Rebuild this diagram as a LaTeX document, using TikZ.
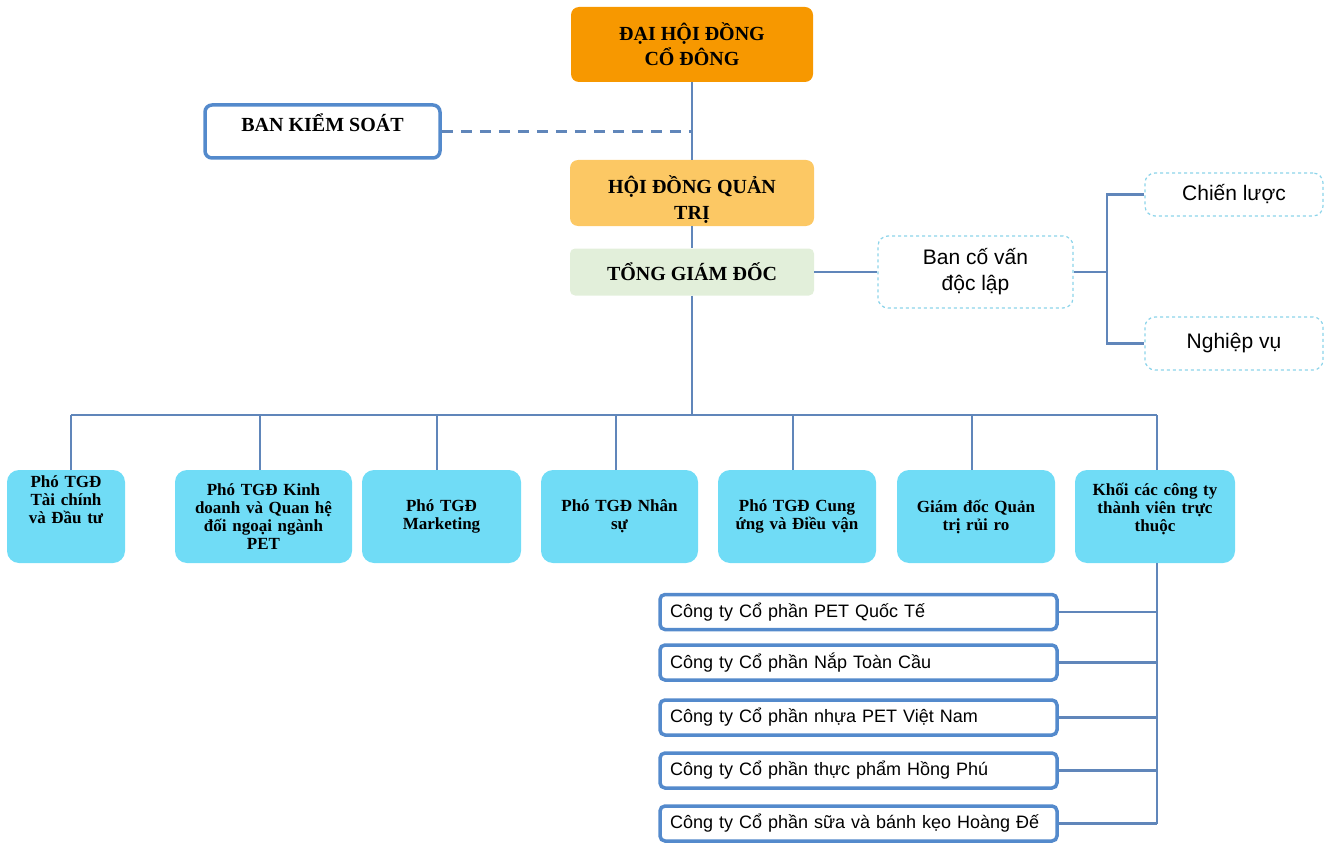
\documentclass[tikz,border=0pt]{standalone}
\usepackage{fontspec}
\setmainfont{Liberation Serif}
\setsansfont{Liberation Sans}
\definecolor{conn}{RGB}{96,134,186}
\definecolor{bord}{RGB}{84,138,204}
\definecolor{orangeA}{RGB}{247,152,0}
\definecolor{orangeB}{RGB}{252,200,100}
\definecolor{greenA}{RGB}{226,239,218}
\definecolor{cyanA}{RGB}{112,220,246}
\definecolor{dashc}{RGB}{140,212,234}
\begin{document}
\begin{tikzpicture}[x=1pt,y=-1pt,
  topbox/.style={rounded corners=8pt, align=center, font=\bfseries\fontsize{20}{25}\selectfont, inner sep=2pt},
  outline/.style={draw=bord, line width=3.5pt, fill=white, rounded corners=7pt, inner sep=2pt},
  advbox/.style={draw=dashc, dashed, line width=1.2pt, fill=white, rounded corners=10pt, align=center, font=\sffamily\fontsize{21}{26}\selectfont},
  unitbox/.style={fill=cyanA, rounded corners=12pt, align=center, font=\bfseries\fontsize{17}{18}\selectfont, minimum height=93pt, inner sep=3pt},
  compbox/.style={draw=bord, line width=3.5pt, fill=white, rounded corners=5pt, minimum width=397pt, minimum height=35pt, text width=377pt, align=left, inner xsep=10pt, font=\sffamily\fontsize{18}{22}\selectfont},
  link/.style={draw=conn, line width=2.2pt}
]
\useasboundingbox (0,0) rectangle (1330,845);

\node[topbox, fill=orangeA, minimum width=242pt, minimum height=75pt] (dhd) at (692,44.5) {ĐẠI HỘI ĐỒNG\\CỔ ĐÔNG};
\node[outline, minimum width=235pt, minimum height=53pt, text height=15pt, text depth=14pt, font=\bfseries\fontsize{20}{25}\selectfont] (bks) at (322.5,131.5) {BAN KIỂM SOÁT};
\node[topbox, fill=orangeB, minimum width=244pt, minimum height=66pt, text height=52pt, text depth=0pt] (hdqt) at (692,193) {HỘI ĐỒNG QUẢN\\TRỊ};
\node[topbox, fill=greenA, rounded corners=5pt, minimum width=244pt, minimum height=47pt] (tgd) at (692,272) {TỔNG GIÁM ĐỐC};

\node[advbox, minimum width=195pt, minimum height=72pt] (bcv) at (975.5,272) {Ban cố vấn\\độc lập};
\node[advbox, minimum width=178pt, minimum height=43pt] (cl) at (1234,194.5) {Chiến lược};
\node[advbox, minimum width=178pt, minimum height=53pt] (nv) at (1234,343.5) {Nghiệp vụ};

\node[unitbox, minimum width=118pt, text width=110pt, text height=5pt, text depth=64pt] (b1) at (66,516.5) {Phó TGĐ\\Tài chính\\và Đầu tư};
\node[unitbox, minimum width=177pt, text width=165pt] (b2) at (263.5,516.5) {Phó TGĐ Kinh\\doanh và Quan hệ\\đối ngoại ngành\\PET};
\node[unitbox, minimum width=159pt, text width=150pt] (b3) at (441.5,516.5) {Phó TGĐ\\Marketing};
\node[unitbox, minimum width=157pt, text width=150pt] (b4) at (619.5,516.5) {Phó TGĐ Nhân\\sự};
\node[unitbox, minimum width=158pt, text width=150pt] (b5) at (797,516.5) {Phó TGĐ Cung\\ứng và Điều vận};
\node[unitbox, minimum width=158pt, text width=150pt] (b6) at (976,516.5) {Giám đốc Quản\\trị rủi ro};
\node[unitbox, minimum width=160pt, text width=150pt, text height=5pt, text depth=48pt] (b7) at (1155,516.5) {Khối các công ty\\thành viên trực\\thuộc};

\node[compbox] (c1) at (858.5,612) {Công ty Cổ phần PET Quốc Tế};
\node[compbox] (c2) at (858.5,662.5) {Công ty Cổ phần Nắp Toàn Cầu};
\node[compbox] (c3) at (858.5,717.5) {Công ty Cổ phần nhựa PET Việt Nam};
\node[compbox] (c4) at (858.5,770.5) {Công ty Cổ phần thực phẩm Hồng Phú};
\node[compbox] (c5) at (858.5,823.5) {Công ty Cổ phần sữa và bánh kẹo Hoàng Đế};

\coordinate (bus) at (692,415);
\coordinate (split) at (1107,272);

\draw[link] (dhd.south) -- (hdqt.north);
\draw[link, dash pattern=on 11pt off 8pt] (bks.east) -- (dhd.south |- bks.east);
\draw[link] (hdqt.south) -- (tgd.north);
\draw[link] (tgd.east) -- (bcv.west);
\draw[link] (bcv.east) -- (split);
\draw[link] (split) |- (cl.west);
\draw[link] (split) |- (nv.west);
\draw[link] (tgd.south) -- (bus);
\foreach \x in {71,260,437,616,793,972,1157}{
  \draw[link] (\x,470) -- (\x,415);
}
\draw[link] (71,415) -- (1157,415);
\draw[link] (b7.south) ++(2,0) coordinate (drop) -- (drop |- c5.east);
\foreach \c in {c1,c2,c3,c4,c5}{
  \draw[link] (\c.east) -- (drop |- \c.east);
}
\end{tikzpicture}
\end{document}
